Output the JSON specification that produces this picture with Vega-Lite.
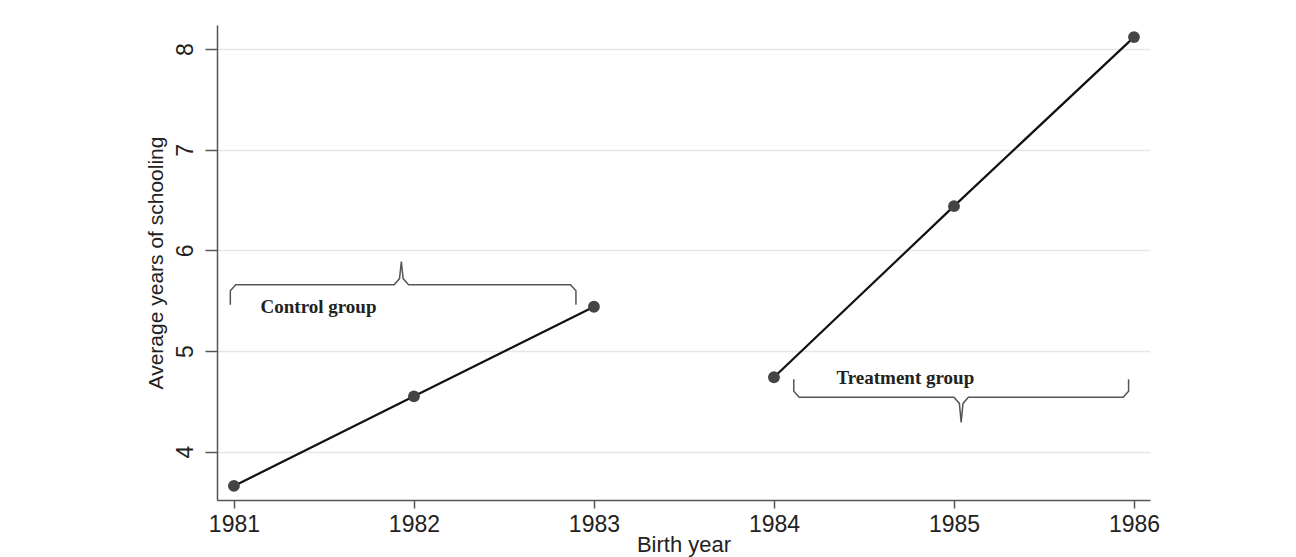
{
  "$schema": "https://vega.github.io/schema/vega-lite/v6.json",
  "width": 933,
  "height": 475,
  "autosize": {"type": "none"},
  "padding": {"left": 217, "top": 25, "right": 146, "bottom": 57},
  "background": "white",
  "config": {
    "view": {"stroke": null},
    "font": "Liberation Sans",
    "axis": {
      "domainColor": "#555",
      "domainWidth": 1.5,
      "tickColor": "#555",
      "tickWidth": 1.5,
      "labelFont": "Liberation Sans",
      "labelFontSize": 23,
      "labelColor": "#222",
      "titleFont": "Liberation Sans",
      "titleFontWeight": "normal",
      "titleColor": "#222"
    }
  },
  "datasets": {
    "pts": [
      {"year": 1981, "school": 3.66, "group": "Control"},
      {"year": 1982, "school": 4.55, "group": "Control"},
      {"year": 1983, "school": 5.44, "group": "Control"},
      {"year": 1984, "school": 4.74, "group": "Treatment"},
      {"year": 1985, "school": 6.44, "group": "Treatment"},
      {"year": 1986, "school": 8.12, "group": "Treatment"}
    ],
    "braces": [
      {"b": "Control", "o": 1, "x": 1980.98, "y": 5.46},
      {"b": "Control", "o": 2, "x": 1980.98, "y": 5.6},
      {"b": "Control", "o": 3, "x": 1981.01, "y": 5.66},
      {"b": "Control", "o": 4, "x": 1981.89, "y": 5.66},
      {"b": "Control", "o": 5, "x": 1981.92, "y": 5.72},
      {"b": "Control", "o": 6, "x": 1981.93, "y": 5.89},
      {"b": "Control", "o": 7, "x": 1981.94, "y": 5.72},
      {"b": "Control", "o": 8, "x": 1981.97, "y": 5.66},
      {"b": "Control", "o": 9, "x": 1982.87, "y": 5.66},
      {"b": "Control", "o": 10, "x": 1982.9, "y": 5.6},
      {"b": "Control", "o": 11, "x": 1982.9, "y": 5.46},
      {"b": "Treatment", "o": 1, "x": 1984.11, "y": 4.72},
      {"b": "Treatment", "o": 2, "x": 1984.11, "y": 4.6},
      {"b": "Treatment", "o": 3, "x": 1984.14, "y": 4.54},
      {"b": "Treatment", "o": 4, "x": 1985.0, "y": 4.54},
      {"b": "Treatment", "o": 5, "x": 1985.03, "y": 4.48},
      {"b": "Treatment", "o": 6, "x": 1985.04, "y": 4.29},
      {"b": "Treatment", "o": 7, "x": 1985.05, "y": 4.48},
      {"b": "Treatment", "o": 8, "x": 1985.08, "y": 4.54},
      {"b": "Treatment", "o": 9, "x": 1985.94, "y": 4.54},
      {"b": "Treatment", "o": 10, "x": 1985.97, "y": 4.6},
      {"b": "Treatment", "o": 11, "x": 1985.97, "y": 4.72}
    ],
    "labels": [
      {"x": 1981.47, "y": 5.44, "t": "Control group"},
      {"x": 1984.73, "y": 4.73, "t": "Treatment group"}
    ]
  },
  "layer": [
    {
      "data": {"name": "pts"},
      "mark": {"type": "line", "color": "#111", "strokeWidth": 2.2},
      "encoding": {
        "x": {
          "field": "year", "type": "quantitative",
          "scale": {"domain": [1980.906, 1986.089], "nice": false, "zero": false},
          "axis": {
            "values": [1981, 1982, 1983, 1984, 1985, 1986],
            "format": "d",
            "grid": false,
            "tickSize": 8,
            "labelPadding": 5,
            "title": "Birth year",
            "titleFontSize": 22,
            "titlePadding": -2
          }
        },
        "y": {
          "field": "school", "type": "quantitative",
          "scale": {"domain": [3.52, 8.24], "nice": false, "zero": false},
          "axis": {
            "values": [4, 5, 6, 7, 8],
            "format": "d",
            "grid": true,
            "gridColor": "#e6e6e6",
            "gridWidth": 1.5,
            "tickSize": 12,
            "labelAngle": -90,
            "labelAlign": "center",
            "labelBaseline": "bottom",
            "labelPadding": 8,
            "title": "Average years of schooling",
            "titleFontSize": 21,
            "titlePadding": 8
          }
        },
        "detail": {"field": "group"}
      }
    },
    {
      "data": {"name": "pts"},
      "mark": {"type": "point", "filled": true, "color": "#444", "opacity": 1, "size": 140},
      "encoding": {
        "x": {"field": "year", "type": "quantitative"},
        "y": {"field": "school", "type": "quantitative"}
      }
    },
    {
      "data": {"name": "braces"},
      "mark": {"type": "line", "color": "#555", "strokeWidth": 1.5},
      "encoding": {
        "x": {"field": "x", "type": "quantitative"},
        "y": {"field": "y", "type": "quantitative"},
        "detail": {"field": "b"},
        "order": {"field": "o"}
      }
    },
    {
      "data": {"name": "labels"},
      "mark": {"type": "text", "font": "Liberation Serif", "fontWeight": "bold", "fontSize": 19, "color": "#222"},
      "encoding": {
        "x": {"field": "x", "type": "quantitative"},
        "y": {"field": "y", "type": "quantitative"},
        "text": {"field": "t"}
      }
    }
  ]
}
